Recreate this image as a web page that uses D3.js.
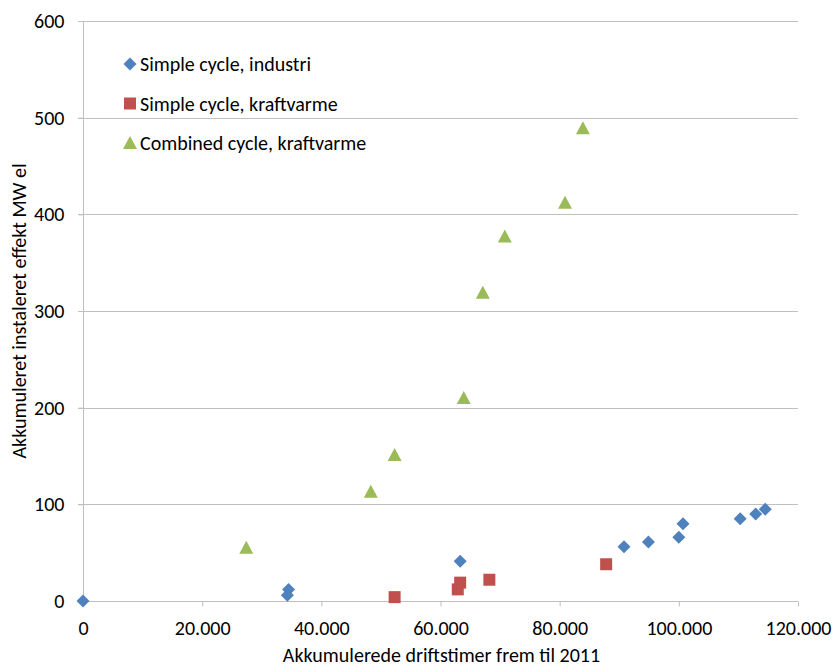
<!DOCTYPE html>
<html>
<head>
<meta charset="utf-8">
<script src="https://cdn.jsdelivr.net/npm/d3@7"></script>
<style>
  html, body { margin: 0; padding: 0; background: #fff; }
  svg text { font-family: Carlito, "Open Sans", sans-serif; fill: #000; }
</style>
</head>
<body>
<svg id="chart" width="834" height="666"></svg>
<script>
// Accumulated operating hours (x) vs accumulated installed capacity in MW el (y)
const industriHours = [0, 34300, 34500, 63300, 90800, 94900, 100000, 100700, 110300, 112900, 114500];
const industriMW    = [0, 6, 12, 41, 56, 61, 66, 80, 85, 90, 95];

const scKraftHours = [52300, 62900, 63300, 68200, 87800];
const scKraftMW    = [4, 12, 19, 22, 38];

const ccKraftHours = [27400, 48300, 52300, 63900, 67100, 70800, 80900, 83900];
const ccKraftMW    = [55, 113, 151, 210, 319, 377, 412, 489];

const seriesNames = ["Simple cycle, industri", "Simple cycle, kraftvarme", "Combined cycle, kraftvarme"];
const seriesColors = ["#4F81BD", "#C0504D", "#9BBB59"];

const xTicks = [0, 20000, 40000, 60000, 80000, 100000, 120000];
const yTicks = [0, 100, 200, 300, 400, 500, 600];

const xTitle = "Akkumulerede driftstimer frem til 2011";
const yTitle = "Akkumuleret instaleret effekt MW el";

// Excel-style markers: square diamond, square, triangle
const diamondPath = () => "M0,-6.5L6.5,0L0,6.5L-6.5,0Z";
const squarePath = () => "M-6,-6H6V6H-6Z";
const trianglePath = () => "M0,-7L7,6H-7Z";

const series = [
  { name: seriesNames[0], color: seriesColors[0], marker: diamondPath,
    pts: industriHours.map((h, i) => [h, industriMW[i]]) },
  { name: seriesNames[1], color: seriesColors[1], marker: squarePath,
    pts: scKraftHours.map((h, i) => [h, scKraftMW[i]]) },
  { name: seriesNames[2], color: seriesColors[2], marker: trianglePath,
    pts: ccKraftHours.map((h, i) => [h, ccKraftMW[i]]) }
];

const svg = d3.select("#chart");
const plotLeft = 83, plotRight = 798, plotTop = 21, plotBottom = 601;
const labelSize = 20;  // tick labels and legend
const titleSize = 20;  // axis titles

const x = d3.scaleLinear().domain([0, 120000]).range([plotLeft, plotRight]);
const y = d3.scaleLinear().domain([0, 600]).range([plotBottom, plotTop]);

const fmt = d => d === 0 ? "0" : d3.format(",")(d).replace(/,/g, ".");

// horizontal gridlines
svg.append("g")
  .selectAll("line")
  .data(yTicks.filter(t => t > 0))
  .join("line")
  .attr("x1", plotLeft - 5).attr("x2", plotRight)
  .attr("y1", d => Math.round(y(d)) + 0.5).attr("y2", d => Math.round(y(d)) + 0.5)
  .attr("stroke", "#BFBFBF").attr("stroke-width", 1);

// y axis
const yAxis = svg.append("g")
  .attr("transform", `translate(${plotLeft + 0.5},0)`)
  .call(d3.axisLeft(y).tickValues(yTicks).tickSize(5).tickPadding(14).tickFormat(d => d));
yAxis.select(".domain").attr("stroke", "#BFBFBF").attr("d", `M0,${y(600)}V${y(0)}`);
yAxis.selectAll(".tick line").attr("stroke", "#BFBFBF");
yAxis.selectAll(".tick text").attr("font-size", labelSize).attr("fill", "#000")
  .attr("font-family", "Carlito, 'Open Sans', sans-serif");

// x axis
const xAxis = svg.append("g")
  .attr("transform", `translate(0,${plotBottom + 0.5})`)
  .call(d3.axisBottom(x).tickValues(xTicks).tickSize(5).tickFormat(fmt));
xAxis.select(".domain").attr("stroke", "#BFBFBF").attr("d", `M${x(0)},0H${x(120000)}`);
xAxis.selectAll(".tick line").attr("stroke", "#BFBFBF");
xAxis.selectAll(".tick text").attr("font-size", labelSize).attr("fill", "#000")
  .attr("font-family", "Carlito, 'Open Sans', sans-serif")
  .attr("y", 33).attr("dy", null);

// axis titles, centred on the plot area
svg.append("text")
  .attr("x", (plotLeft + plotRight) / 2 + 1).attr("y", 662)
  .attr("text-anchor", "middle").attr("font-size", titleSize)
  .text(xTitle);

svg.append("text")
  .attr("transform", `translate(26,${(plotTop + plotBottom) / 2}) rotate(-90)`)
  .attr("text-anchor", "middle").attr("font-size", titleSize)
  .text(yTitle);

// data points
series.forEach(s => {
  svg.append("g")
    .selectAll("path")
    .data(s.pts)
    .join("path")
    .attr("d", s.marker)
    .attr("transform", d => `translate(${x(d[0])},${y(d[1])})`)
    .attr("fill", s.color);
});

// legend
const legend = svg.append("g");
series.forEach((s, i) => {
  const cy = 64 + i * 39.5;
  legend.append("path")
    .attr("d", s.marker)
    .attr("transform", `translate(130,${cy})`)
    .attr("fill", s.color);
  legend.append("text")
    .attr("x", 140).attr("y", cy + 7)
    .attr("font-size", labelSize)
    .text(s.name);
});
</script>
</body>
</html>
